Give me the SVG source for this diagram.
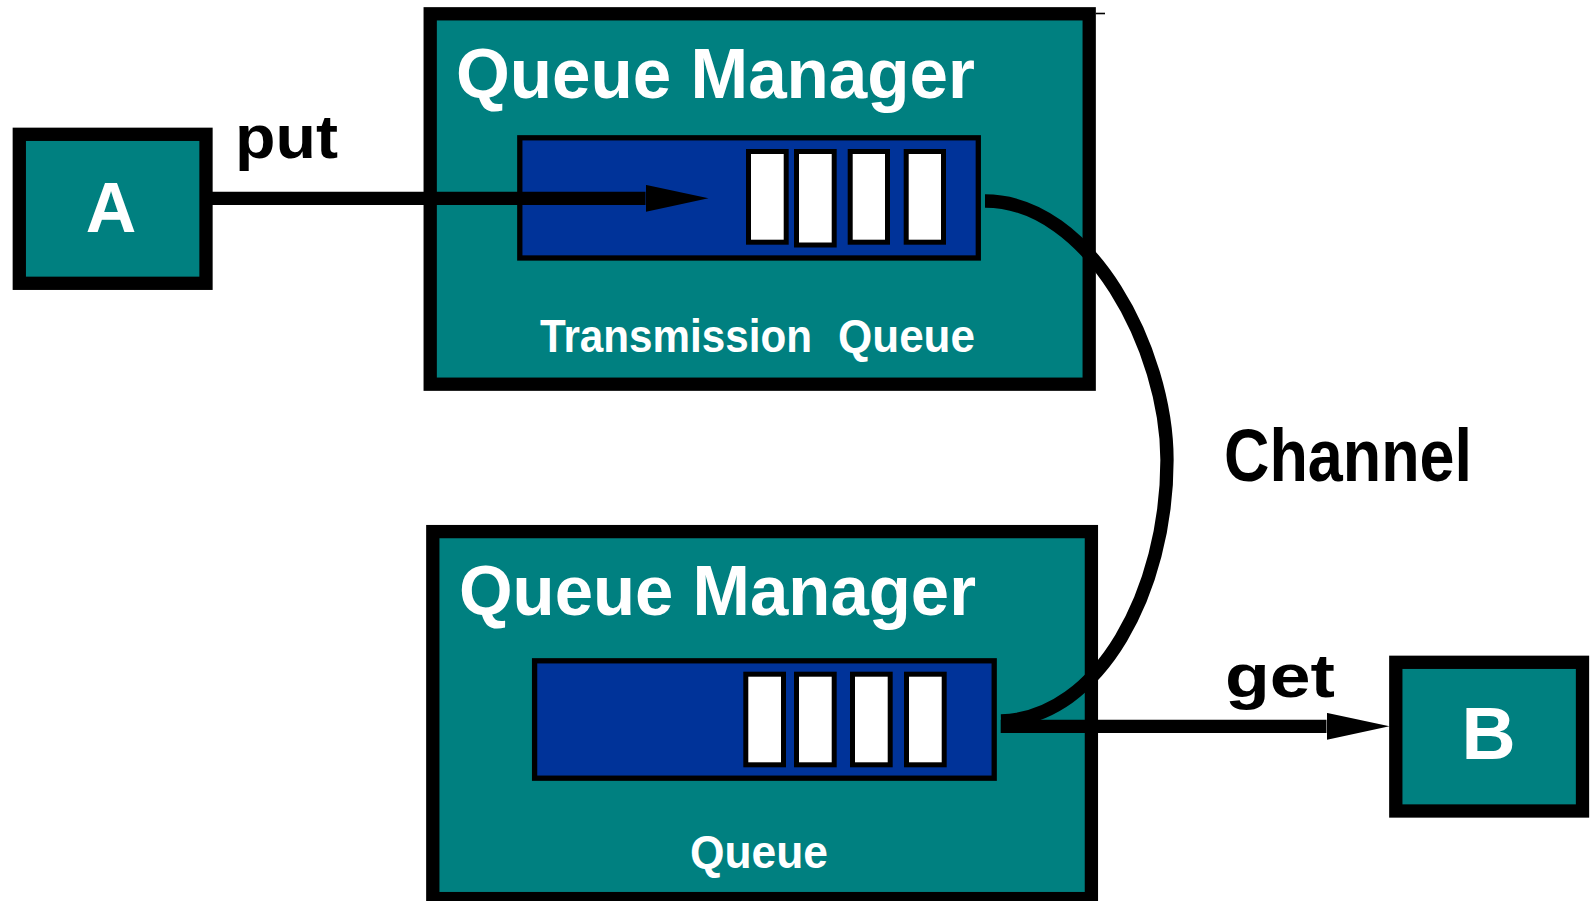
<svg xmlns="http://www.w3.org/2000/svg" width="1591" height="901" viewBox="0 0 1591 901">
  <style>
    .box { fill: #008080; stroke: #000; stroke-width: 13.3; }
    .queue { fill: #003399; stroke: #000; stroke-width: 5.3; }
    .slot { fill: #ffffff; stroke: #000; stroke-width: 5; }
    .lbl { font-family: "Liberation Sans", Arial, sans-serif; font-weight: bold; }
    .w { fill: #ffffff; }
    .k { fill: #000000; }
    .conn { fill: none; stroke: #000; stroke-width: 13.3; }
  </style>
  <defs>
    <marker id="arrow" viewBox="0 0 63 27" refX="0" refY="13.5" markerWidth="63" markerHeight="27" markerUnits="userSpaceOnUse" orient="auto">
      <path d="M0,0 L63,13.5 L0,27 Z" fill="#000"/>
    </marker>
  </defs>
  <rect x="0" y="0" width="1591" height="901" fill="#ffffff"/>

  <g id="qm-top">
    <rect class="box" x="430.2" y="13.8" width="659" height="370.4"/>
    <line x1="1095.7" y1="13.5" x2="1105" y2="13.5" stroke="#000" stroke-width="1.6"/>
    <text class="lbl w" x="456" y="98" font-size="70" textLength="519" lengthAdjust="spacingAndGlyphs">Queue Manager</text>
  </g>

  <g id="xmitq">
    <rect class="queue" x="519.8" y="137.8" width="458.5" height="120.2"/>
    <rect class="slot" x="748.5" y="151.5" width="37.7" height="90.7"/>
    <rect class="slot" x="796.5" y="151.5" width="37.7" height="93.5"/>
    <rect class="slot" x="850.2" y="151.5" width="37.3" height="90.7"/>
    <rect class="slot" x="906.2" y="151.5" width="37.3" height="90.7"/>
    <text class="lbl w" y="352" font-size="46"><tspan x="540" textLength="272" lengthAdjust="spacingAndGlyphs">Transmission</tspan><tspan x="838" textLength="137" lengthAdjust="spacingAndGlyphs">Queue</tspan></text>
  </g>

  <g id="qm-bottom">
    <rect class="box" x="432.8" y="531.6" width="658.6" height="367"/>
    <text class="lbl w" x="459" y="615" font-size="70" textLength="517" lengthAdjust="spacingAndGlyphs">Queue Manager</text>
  </g>

  <g id="queue">
    <rect class="queue" x="534.6" y="660.8" width="459.6" height="117.4"/>
    <rect class="slot" x="745.8" y="674.2" width="37.7" height="90.6"/>
    <rect class="slot" x="796.5" y="674.2" width="37.7" height="90.6"/>
    <rect class="slot" x="852.5" y="674.2" width="37.7" height="90.6"/>
    <rect class="slot" x="906.5" y="674.2" width="37.7" height="90.6"/>
    <text class="lbl w" x="690" y="868" font-size="46" textLength="138" lengthAdjust="spacingAndGlyphs">Queue</text>
  </g>

  <g id="node-a">
    <rect class="box" x="19.3" y="134.3" width="186.7" height="149"/>
    <text class="lbl w" x="111" y="231.7" font-size="70" text-anchor="middle">A</text>
  </g>

  <g id="node-b">
    <rect class="box" x="1395.8" y="662.3" width="186.7" height="148.7"/>
    <text class="lbl w" x="1488.7" y="759" font-size="75" text-anchor="middle">B</text>
  </g>

  <g id="connectors">
    <line class="conn" x1="212" y1="198.3" x2="645.5" y2="198.3" marker-end="url(#arrow)"/>
    <text class="lbl k" x="235" y="158" font-size="62" textLength="103" lengthAdjust="spacingAndGlyphs">put</text>
    <path class="conn" d="M985,201 C1090,201 1167,350 1167,460 C1167,590 1100,718 1001,721"/>
    <text class="lbl k" x="1224" y="481" font-size="74" textLength="248" lengthAdjust="spacingAndGlyphs">Channel</text>
    <line class="conn" x1="1000.7" y1="726.3" x2="1326.5" y2="726.3" marker-end="url(#arrow)"/>
    <text class="lbl k" x="1225" y="697" font-size="62" textLength="110" lengthAdjust="spacingAndGlyphs">get</text>
  </g>
</svg>
